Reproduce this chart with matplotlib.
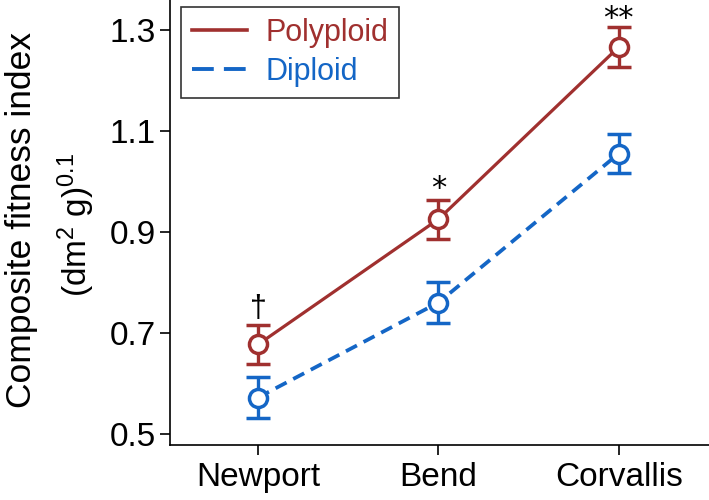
import matplotlib
matplotlib.use("Agg")
import matplotlib.pyplot as plt
import numpy as np
from matplotlib.lines import Line2D

plt.rcParams['font.family'] = ['Liberation Sans', 'DejaVu Sans']
plt.rcParams['mathtext.fontset'] = 'custom'
plt.rcParams['mathtext.rm'] = 'Liberation Sans'
plt.rcParams['mathtext.it'] = 'Liberation Sans:italic'

sites = ["Newport", "Bend", "Corvallis"]
poly_mean = [0.677, 0.925, 1.266]
poly_err = [0.038, 0.039, 0.039]
dip_mean = [0.572, 0.760, 1.055]
dip_err = [0.040, 0.040, 0.038]
sig_labels = ["\u2020", "*", "**"]
sig_y = [0.748, 0.985, 1.322]

red = "#A0302F"
blue = "#1466C6"

fig = plt.figure(figsize=(7.09, 5.0), dpi=100)
ax = fig.add_axes([170/709, 55/500, 1 - 170/709, 445/500])

x = np.arange(1, len(sites) + 1)

ax.errorbar(x, poly_mean, yerr=poly_err, color=red, lw=2.3, ls='-',
            marker='o', ms=13, mfc='white', mec=red, mew=2.5,
            capsize=8.4, capthick=2.6, elinewidth=2.4, zorder=3)
ax.errorbar(x, dip_mean, yerr=dip_err, color=blue, lw=2.7, ls=(0, (3.3, 2.0)),
            marker='o', ms=13, mfc='white', mec=blue, mew=2.5,
            capsize=8.4, capthick=2.6, elinewidth=2.4, zorder=3)

for xi, lab, yy in zip(x, sig_labels, sig_y):
    fam = ['DejaVu Sans'] if lab.startswith('*') else ['Liberation Sans', 'DejaVu Sans']
    ax.text(xi, yy, lab, ha='center', va='center', fontsize=22, color='black',
            family=fam)

ax.set_xlim(0.512, 3.5)
ax.set_ylim(0.478, 1.359)
ax.set_xticks(x)
ax.set_xticklabels(sites)
ax.set_yticks([0.5, 0.7, 0.9, 1.1, 1.3])
ax.set_yticklabels(["0.5", "0.7", "0.9", "1.1", "1.3"])
ax.tick_params(axis='both', labelsize=24, length=7, width=1.2, color='black', pad=3)
ax.tick_params(axis='x', pad=5)
for s in ['top', 'right']:
    ax.spines[s].set_visible(False)
for s in ['left', 'bottom']:
    ax.spines[s].set_linewidth(1.2)

handles = [Line2D([], [], color=red, lw=2.6, ls='-'),
           Line2D([], [], color=blue, lw=2.8, ls=(0, (5.6, 2.6)))]
leg = ax.legend(handles, ["Polyploid", "Diploid"], loc='upper left',
                bbox_to_anchor=(11/539, 1 - 7/445), fontsize=22,
                frameon=True, fancybox=False, edgecolor='black',
                handlelength=1.8, handletextpad=0.6, borderpad=0.35,
                labelspacing=0.3, borderaxespad=0)
leg.get_frame().set_linewidth(1.2)
for t, c in zip(leg.get_texts(), [red, blue]):
    t.set_color(c)

fig.text(22/709, 1 - 220/500, "Composite fitness index", rotation=90,
         ha='center', va='center', fontsize=25.5)
fig.text(76/709, 1 - 225/500, r"(dm$^{2}$ g)$^{0.1}$", rotation=90,
         ha='center', va='center', fontsize=24)

fig.savefig("out.png", dpi=100)
